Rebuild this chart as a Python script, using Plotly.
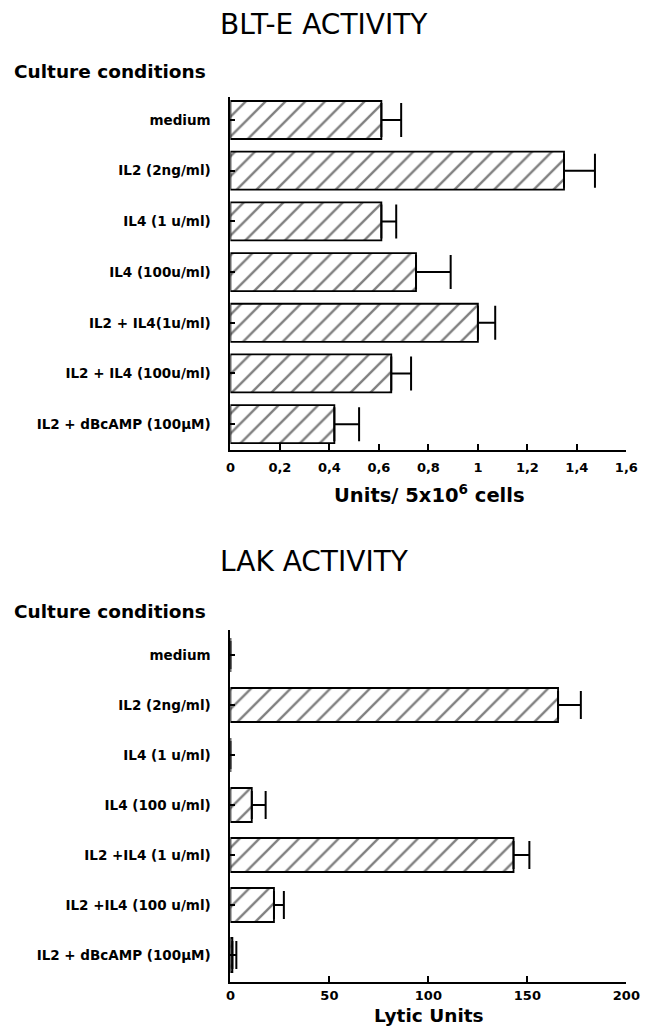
import plotly.graph_objects as go

# ---- data ----
top_categories = ["medium", "IL2 (2ng/ml)", "IL4 (1 u/ml)", "IL4 (100u/ml)",
                  "IL2 + IL4(1u/ml)", "IL2 + IL4 (100u/ml)", "IL2 + dBcAMP (100µM)"]
top_values = [0.61, 1.348, 0.61, 0.75, 1.0, 0.65, 0.42]
top_errors = [0.08, 0.125, 0.06, 0.14, 0.07, 0.08, 0.10]
top_tickvals = [0, 0.2, 0.4, 0.6, 0.8, 1.0, 1.2, 1.4, 1.6]
top_ticktext = ["0", "0,2", "0,4", "0,6", "0,8", "1", "1,2", "1,4", "1,6"]

bottom_categories = ["medium", "IL2 (2ng/ml)", "IL4 (1 u/ml)", "IL4 (100 u/ml)",
                     "IL2 +IL4 (1 u/ml)", "IL2 +IL4 (100 u/ml)", "IL2 + dBcAMP (100µM)"]
bottom_values = [0, 165.5, 0, 10.8, 143, 22, 1]
bottom_errors = [0, 11.5, 0, 7, 8, 5, 2]
bottom_tickvals = [0, 50, 100, 150, 200]
bottom_ticktext = ["0", "50", "100", "150", "200"]

# page is 661x1035 with an 8px body margin -> figure 645x1019
OFF = 8
FW, FH = 661 - 2 * OFF, 1035 - 2 * OFF
LBL = "DejaVu Sans"


def px(p):
    return (p - OFF) / FW


def py(p):
    return 1 - (p - OFF) / FH


pattern = dict(shape="/", fgcolor="black", bgcolor="white", size=14, solidity=0.17)

fig = go.Figure()
fig.add_trace(go.Bar(
    x=top_values, y=list(range(len(top_categories))), orientation="h",
    width=0.75,
    marker=dict(color="white", line=dict(color="black", width=1.8), pattern=pattern),
    error_x=dict(type="data", array=top_errors, arrayminus=[0] * len(top_errors),
                 symmetric=False, color="black", thickness=2, width=17),
    xaxis="x", yaxis="y", showlegend=False,
))
fig.add_trace(go.Bar(
    x=bottom_values, y=list(range(len(bottom_categories))), orientation="h",
    width=0.68,
    marker=dict(color="white", line=dict(color="black", width=1.8), pattern=pattern),
    error_x=dict(type="data", array=bottom_errors, arrayminus=[0] * len(bottom_errors),
                 symmetric=False, color="black", thickness=2, width=14),
    xaxis="x2", yaxis="y2", showlegend=False,
))

xdom = [px(232), px(640)]
axis_common = dict(showline=True, linecolor="black", linewidth=2, showgrid=False,
                   zeroline=False, ticks="inside", tickcolor="black", tickwidth=1.5,
                   ticklen=6)
yaxis_common = {**axis_common, "ticklen": 5}

fig.update_layout(
    width=FW, height=FH,
    margin=dict(l=0, r=0, t=0, b=0),
    paper_bgcolor="white", plot_bgcolor="white",
    font=dict(family=LBL, color="black"),
    xaxis=dict(domain=xdom, range=[0, 1.6], anchor="y",
               tickvals=top_tickvals, ticktext=top_ticktext,
               tickfont=dict(family=LBL, size=13, weight="bold", color="black"),
               ticklabelstandoff=4, **axis_common),
    yaxis=dict(domain=[py(450), py(97)], range=[6.51, -0.454], anchor="x",
               tickvals=list(range(len(top_categories))), ticktext=top_categories,
               tickfont=dict(family=LBL, size=13.5, weight="bold", color="black"),
               ticklabelstandoff=15, **yaxis_common),
    xaxis2=dict(domain=xdom, range=[0, 200], anchor="y2",
                tickvals=bottom_tickvals, ticktext=bottom_ticktext,
                tickfont=dict(family=LBL, size=13, weight="bold", color="black"),
                ticklabelstandoff=0, **axis_common),
    yaxis2=dict(domain=[py(982), py(630)], range=[6.54, -0.5], anchor="x2",
                tickvals=list(range(len(bottom_categories))), ticktext=bottom_categories,
                tickfont=dict(family=LBL, size=13.5, weight="bold", color="black"),
                ticklabelstandoff=15, **yaxis_common),
)

ann = [
    dict(text="BLT-E ACTIVITY", x=px(219), y=py(24), xanchor="left", yanchor="middle",
         font=dict(family="DejaVu Sans", size=28, color="black")),
    dict(text="Culture conditions", x=px(7), y=py(72), xanchor="left", yanchor="middle",
         font=dict(family=LBL, size=18.5, weight="bold", color="black")),
    dict(text="Units/ 5x10<sup>6</sup> cells", x=px(437), y=py(494), xanchor="center",
         yanchor="middle", font=dict(family=LBL, size=19.5, weight="bold", color="black")),
    dict(text="LAK ACTIVITY", x=px(219), y=py(561), xanchor="left", yanchor="middle",
         font=dict(family="DejaVu Sans", size=28, color="black")),
    dict(text="Culture conditions", x=px(7), y=py(611), xanchor="left", yanchor="middle",
         font=dict(family=LBL, size=18.5, weight="bold", color="black")),
    dict(text="Lytic Units", x=px(437), y=py(1015), xanchor="center", yanchor="middle",
         font=dict(family=LBL, size=18.5, weight="bold", color="black")),
]
for a in ann:
    fig.add_annotation(xref="paper", yref="paper", showarrow=False, **a)

fig.write_html("out.html")
